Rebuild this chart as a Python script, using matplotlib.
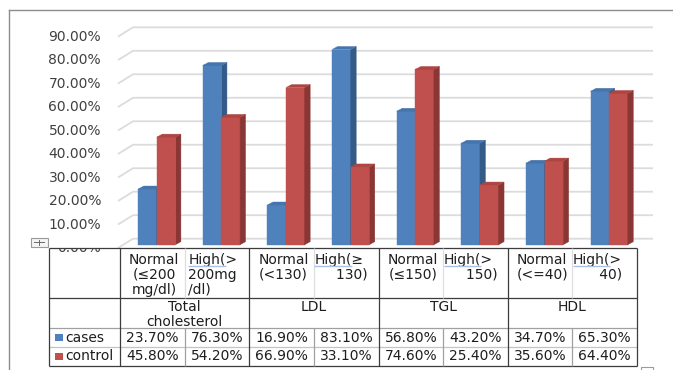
import matplotlib
matplotlib.use("Agg")
import matplotlib.pyplot as plt
from matplotlib.patches import Polygon, Rectangle

# ---- data -------------------------------------------------------------
categories = ["Normal\n(≤200\nmg/dl)", "High(>\n200mg\n/dl)",
              "Normal\n(<130)", "High(≥\n     130)",
              "Normal\n(≤150)", "High(>\n     150)",
              "Normal\n(<=40)", "High(>\n      40)"]
groups = ["Total\ncholesterol", "LDL", "TGL", "HDL"]
series_names = ["cases", "control"]
cases = [23.70, 76.30, 16.90, 83.10, 56.80, 43.20, 34.70, 65.30]
control = [45.80, 54.20, 66.90, 33.10, 74.60, 25.40, 35.60, 64.40]
y_ticks = [0, 10, 20, 30, 40, 50, 60, 70, 80, 90]

# ---- styling ------------------------------------------------------------
W, H = 673, 370
front_colors = ["#4f81bd", "#c0504d"]
side_colors = ["#345a88", "#8a3634"]
top_colors = ["#4674ac", "#ad4643"]
grid_color = "#dcdcdc"
text_color = "#1e1e1e"
dark_line = "#3c3c3c"
mid_line = "#a0a0a0"
light_line = "#dedede"
FONT = "DejaVu Sans"

fig = plt.figure(figsize=(W / 100, H / 100), dpi=100)
fig.patch.set_facecolor("white")

# plot area: categories 0..7, values 0..90 %
ax = fig.add_axes([120 / W, (H - 244.7) / H, 517 / W, 211.4 / H], zorder=1)
ax.set_xlim(-0.5, len(categories) - 0.5)
ax.set_ylim(0, 90)
ax.axis("off")

# overlay in pixel units (y down) for the data table and frame
tab = fig.add_axes([0, 0, 1, 1], zorder=2)
tab.set_xlim(0, W)
tab.set_ylim(H, 0)
tab.axis("off")
tab.patch.set_alpha(0)


def px(x, v):
    d = ax.transData.transform((x, v))
    return tab.transData.inverted().transform(d)


sx = px(1, 0)[0] - px(0, 0)[0]      # pixels per category
sy = px(0, 0)[1] - px(0, 1)[1]      # pixels per percent

# ---- 3-D style gridlines (left wall slant + back wall) -------------------
for v in y_ticks:
    xs = [-0.5 - 2 / sx, -0.5 + 13 / sx, len(categories) - 0.5 + 16 / sx]
    vs = [v - 3.3 / sy, v + 6 / sy, v + 6 / sy]
    ax.plot(xs, vs, color=grid_color, lw=1.3, clip_on=False, zorder=1,
            solid_capstyle="butt")

# ---- bars ---------------------------------------------------------------
bar_w = 18.6 / sx
shift = 4.5 / sx
ddx = 5.5 / sx
ddv = 3.0 / sy
series = [cases, control]
for s, vals in enumerate(series):
    offs = shift + (s - 0.5) * bar_w
    xc = [i + offs for i in range(len(vals))]
    z = 2 + s
    ax.bar(xc, vals, width=bar_w, color=front_colors[s], edgecolor=front_colors[s],
           linewidth=0.3, zorder=z, clip_on=False)
    for x, v in zip(xc, vals):
        xl, xr = x - bar_w / 2, x + bar_w / 2
        ax.add_patch(Polygon([(xr, 0), (xr + ddx, ddv), (xr + ddx, v + ddv), (xr, v)],
                             closed=True, facecolor=side_colors[s], edgecolor=side_colors[s],
                             lw=0.3, zorder=z, clip_on=False))
        ax.add_patch(Polygon([(xl, v), (xr, v), (xr + ddx, v + ddv), (xl + ddx, v + ddv)],
                             closed=True, facecolor=top_colors[s], edgecolor=top_colors[s],
                             lw=0.3, zorder=z, clip_on=False))

# ---- value axis labels --------------------------------------------------
for v in y_ticks:
    x, y = px(-0.5, v)
    tab.text(x - 19, y + 3.3, f"{v:.2f}%", ha="right", va="center",
             fontsize=10, color="#404040", family=FONT, zorder=1)
# table top edge hides the upper part of the lowest label
tab.add_patch(Rectangle((50, 238), 67, 10.3, facecolor="white", edgecolor="none", zorder=2))

# ---- data table -----------------------------------------------------------
edges = [px(i - 0.5, 0)[0] for i in range(len(categories) + 1)]
x_head = 49
r0, r1, r2, r3, r4 = 248, 298, 328, 347, 366
left, right = x_head, edges[-1]

def hline(y, c, lw=0.9):
    tab.plot([left, right], [y, y], color=c, lw=lw, zorder=3, solid_capstyle="butt")

def vline(x, y0, y1, c, lw=0.9):
    tab.plot([x, x], [y0, y1], color=c, lw=lw, zorder=3, solid_capstyle="butt")

hline(r0, dark_line)
hline(r1, dark_line)
hline(r2, mid_line)
hline(r3, "#c4c4c4")
hline(r4, dark_line)
vline(x_head, r0, r4, dark_line)
for i, x in enumerate(edges):
    if i % 2 == 0:
        vline(x, r0, r4, dark_line)
    else:
        vline(x, r0, r1, light_line)
        vline(x, r2, r4, mid_line)

fs = 10
renderer = fig.canvas.get_renderer()
for i, lab in enumerate(categories):
    xl, xr = edges[i], edges[i + 1]
    if lab.startswith("Normal"):
        tab.text((xl + xr) / 2 + 2, r0 + 5, lab, ha="center", va="top", ma="center",
                 fontsize=fs, color=text_color, family=FONT, linespacing=1.07, zorder=4)
    else:
        pad = 3.5 if i == 1 else 0.5
        tab.text(xl + pad, r0 + 5, lab, ha="left", va="top", ma="left",
                 fontsize=fs, color=text_color, family=FONT, linespacing=1.07, zorder=4)
        # proofing underline beneath the leading word
        probe = tab.text(0, 0, lab.split("\n")[0][:-1], fontsize=fs, family=FONT)
        bb = probe.get_window_extent(renderer)
        probe.remove()
        tab.plot([xl + pad, xl + pad + bb.width], [r0 + 17.5, r0 + 17.5],
                 color="#a9c1e8", lw=1.0, zorder=4, solid_capstyle="butt")

for g, lab in enumerate(groups):
    xc = (edges[2 * g] + edges[2 * g + 2]) / 2
    tab.text(xc, r1 + 2, lab, ha="center", va="top", ma="center",
             fontsize=fs, color=text_color, family=FONT, linespacing=1.1, zorder=4)

row_mid = [(r2 + r3) / 2, (r3 + r4) / 2]
for s, vals in enumerate(series):
    y = row_mid[s]
    tab.add_patch(Rectangle((55, y - 3.5), 8, 7, facecolor=front_colors[s],
                            edgecolor="none", zorder=4))
    tab.text(65, y, series_names[s], ha="left", va="center", fontsize=fs,
             color=text_color, family=FONT, zorder=4)
    for i, v in enumerate(vals):
        xc = (edges[i] + edges[i + 1]) / 2
        tab.text(xc, y, f"{v:.2f}%", ha="center", va="center", fontsize=fs,
                 color=text_color, family=FONT, zorder=4)

# ---- frame and handles ------------------------------------------------------
tab.plot([9, W], [10, 10], color="#8c8c8c", lw=1.0, zorder=3)
tab.plot([9, 9], [10, H], color="#8c8c8c", lw=1.0, zorder=3)
tab.add_patch(Rectangle((30.5, 237.5), 17, 9.5, facecolor="#f4f4f4",
                        edgecolor="#9a9a9a", lw=0.8, zorder=3))
tab.plot([34, 44], [242.2, 242.2], color="#6a6a6a", lw=0.7, zorder=4)
tab.plot([39, 39], [239.5, 245], color="#6a6a6a", lw=0.7, zorder=4)
tab.add_patch(Rectangle((640.5, 366.5), 12, 8, facecolor="white",
                        edgecolor="#9a9a9a", lw=0.8, zorder=3, clip_on=False))

fig.savefig("out.png", dpi=100)
